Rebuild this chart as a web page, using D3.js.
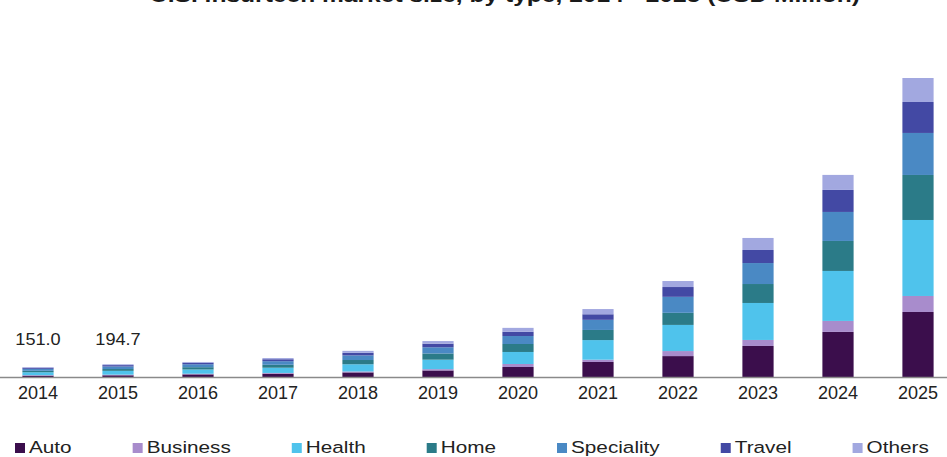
<!DOCTYPE html>
<html>
<head>
<meta charset="utf-8">
<script src="https://cdn.jsdelivr.net/npm/d3@7"></script>
<style>
  html, body { margin: 0; padding: 0; background: #ffffff; overflow: hidden; }
  svg { display: block; font-family: "Liberation Sans", Arial, sans-serif; }
</style>
</head>
<body>
<svg id="chart" width="947" height="457"></svg>
<script>
// ---- data ----
const title = "U.S. insurtech market size, by type, 2014 - 2025 (USD Million)";
const years = ["2014","2015","2016","2017","2018","2019","2020","2021","2022","2023","2024","2025"];
const seriesNames = ["Auto","Business","Health","Home","Speciality","Travel","Others"];
const auto       = [20, 26, 40, 50, 70, 100, 153, 230, 320, 475, 690, 995];
const business   = [8, 10, 10, 12, 15, 20, 46, 35, 77, 92, 168, 245];
const health     = [45, 58, 65, 80, 110, 145, 184, 300, 400, 566, 765, 1163];
const home       = [22, 28, 35, 45, 65, 95, 122, 155, 185, 290, 459, 689];
const speciality = [30, 39, 45, 55, 70, 95, 122, 155, 245, 321, 444, 643];
const travel     = [16, 21, 22, 30, 40, 55, 65, 85, 150, 200, 337, 474];
const others     = [10, 12.7, 13, 18, 30, 40, 60, 80, 92, 184, 230, 367];
const valueLabels = [{year: "2014", text: "151.0"}, {year: "2015", text: "194.7"}];
const colors = ["#3b0e4c", "#a88ccc", "#4fc3ec", "#2b7b88", "#4a89c4", "#4349a4", "#a2a8e0"];

// ---- build table ----
const seriesValues = [auto, business, health, home, speciality, travel, others];
const table = years.map((y, i) => {
  const row = {year: y};
  seriesNames.forEach((s, k) => row[s] = seriesValues[k][i]);
  return row;
});
const stacked = d3.stack().keys(seriesNames)(table);
const totals = table.map(r => d3.sum(seriesNames, s => r[s]));

const svg = d3.select("#chart");
const baseY = 377, topY = 78;

const x = d3.scaleBand().domain(years).range([-2, 958]).paddingInner(0.61).paddingOuter(0.305);
const y = d3.scaleLinear().domain([0, d3.max(totals)]).range([baseY, topY]);
const color = d3.scaleOrdinal().domain(seriesNames).range(colors);

// title (cut off at top as in reference)
svg.append("text")
  .attr("x", 505).attr("y", 2)
  .attr("text-anchor", "middle")
  .attr("font-size", 20).attr("font-weight", "bold")
  .attr("fill", "#1a1a1a")
  .attr("textLength", 710).attr("lengthAdjust", "spacingAndGlyphs")
  .text(title);

// bars
svg.append("g").selectAll("g")
  .data(stacked)
  .join("g")
  .attr("fill", d => color(d.key))
  .selectAll("rect")
  .data(d => d)
  .join("rect")
  .attr("x", d => x(d.data.year))
  .attr("width", x.bandwidth())
  .attr("y", d => y(d[1]))
  .attr("height", d => y(d[0]) - y(d[1]));

// axis
const axis = svg.append("g")
  .attr("transform", `translate(0,${baseY})`)
  .call(d3.axisBottom(x).tickSize(0).tickPadding(9));
axis.select(".domain").attr("stroke", "#8a8a8a").attr("stroke-width", 1.5);
axis.selectAll(".tick text")
  .attr("font-size", 18)
  .attr("font-family", "\"Liberation Sans\", Arial, sans-serif")
  .attr("fill", "#222");

// value labels
svg.append("g").selectAll("text")
  .data(valueLabels)
  .join("text")
  .attr("x", d => x(d.year) + x.bandwidth() / 2)
  .attr("y", 345)
  .attr("text-anchor", "middle")
  .attr("font-size", 16.5)
  .attr("fill", "#222")
  .attr("transform", d => {
    const cx = x(d.year) + x.bandwidth() / 2;
    return `translate(${cx},0) scale(1.1,1) translate(${-cx},0)`;
  })
  .text(d => d.text);

// legend
const legend = svg.append("g");
const sx = 1.22, gap = 61, sqToText = 14, legY = 453;
let cursor = 15;
seriesNames.forEach((s, k) => {
  legend.append("rect")
    .attr("x", cursor).attr("y", legY - 10)
    .attr("width", 10).attr("height", 10)
    .attr("fill", color(s));
  const tx = cursor + sqToText;
  const t = legend.append("text")
    .attr("x", 0).attr("y", 0)
    .attr("font-size", 17)
    .attr("fill", "#222")
    .attr("transform", `translate(${tx},${legY}) scale(${sx},1)`)
    .text(s);
  const w = t.node().getComputedTextLength() * sx;
  cursor = tx + w + gap;
});
</script>
</body>
</html>
